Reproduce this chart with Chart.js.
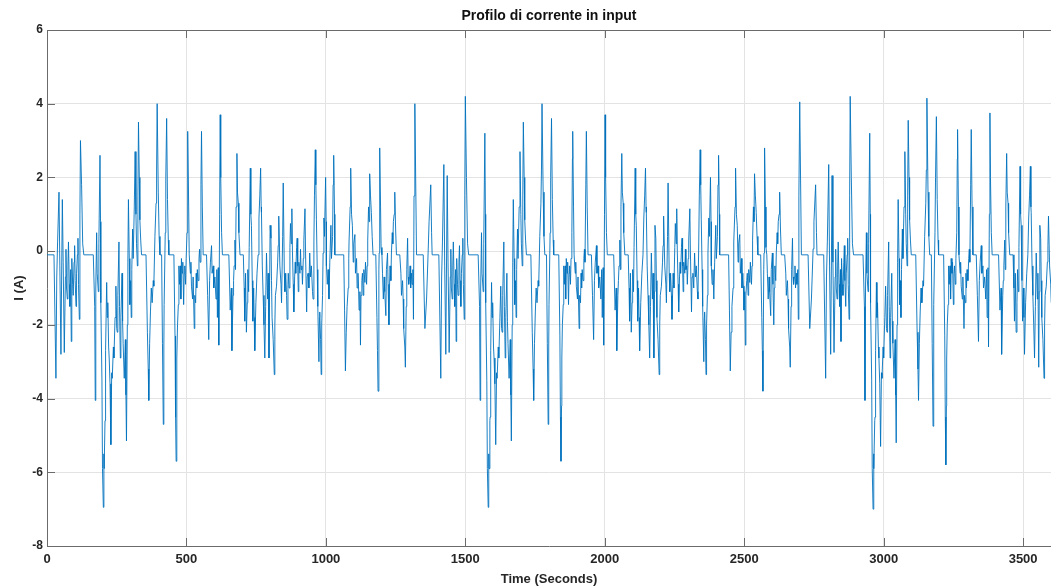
<!DOCTYPE html>
<html>
<head>
<meta charset="utf-8">
<title>Profilo di corrente in input</title>
<script src="https://cdn.jsdelivr.net/npm/chart.js@4.4.1/dist/chart.umd.min.js"></script>
<style>
    html, body { margin: 0; padding: 0; background: #ffffff; }
    canvas { display: block; }
</style>
</head>
<body>
<canvas id="profilo-corrente" width="1051" height="588"></canvas>
<script>
/************** Dati del profilo ****************/

// tacche degli assi
const timeTicks = [0, 500, 1000, 1500, 2000, 2500, 3000, 3500];
const currentTicks = [-8, -6, -4, -2, 0, 2, 4, 6];

// primo giro del profilo (i picchi di ricarica iniziali sono piu' bassi)
const lap1Time = [
    0, 1,
    25, 32, 35, 38, 43, 46, 50, 55, 58, 62,
    66, 68, 70, 73, 75, 77, 80, 82, 85, 87,
    89, 92, 94, 97, 99, 101, 104, 106, 109, 111,
    113, 116, 118, 120, 124, 128, 132, 166, 171, 173,
    175, 178, 180, 184, 186, 190, 192, 193, 197, 199,
    202, 204, 205, 208, 209, 211, 214, 216, 218, 221,
    223, 226, 229, 232, 234, 238, 240, 244, 247, 250,
    252, 254, 258, 260, 263, 265, 269, 271, 273, 277,
    281, 283, 285, 288, 290, 292, 295, 297, 300, 302,
    304, 307, 309, 313, 316, 319, 321, 324, 326, 328,
    331, 333, 336, 339, 355, 360, 363, 365, 368, 371,
    374, 377, 381, 383, 387, 391, 393, 395, 399, 402,
    405, 411, 414, 417, 419, 420, 424, 426, 429, 432,
    435, 437, 455, 459, 461, 463, 465, 466, 468, 471,
    473, 475, 478, 480, 482, 485, 487, 490, 492, 494,
    497, 499, 502, 504, 505, 508, 510, 514, 516, 518,
    522, 524, 528, 530, 533, 535, 537, 539, 542, 545,
    547, 549, 552, 554, 557, 560, 572, 576, 580, 583,
    586, 590, 592, 596, 598, 602, 606, 609, 611, 614,
    616, 619, 621, 623, 626, 629, 652, 657, 661, 663,
    667, 669, 671, 674, 676, 678, 681, 683, 686, 688,
    692, 704, 707, 709, 712, 715, 718, 720, 723, 725,
    729, 731, 733, 736, 738, 741, 743, 745, 749, 753,
    757, 760, 763, 766, 768, 769, 772, 775, 778, 781,
    784, 787, 791, 793, 796, 798, 800, 803, 805, 807,
    811, 815, 817, 819, 823, 827, 829, 831, 835, 839,
    841, 845, 847, 851, 853, 856, 859, 861, 864, 865,
    868, 871, 873, 876, 878, 880, 883, 885, 888, 890,
    892, 895, 897, 899, 901, 903, 907, 909, 911, 914,
    916, 919, 921, 925, 927, 931, 933, 936, 939, 942,
    945, 948, 952, 954, 957, 959, 962, 964, 966, 969,
    971, 975, 977, 978, 981, 983, 985, 988, 990, 993,
    995, 999, 1001, 1002, 1005, 1008, 1011, 1014, 1018, 1020,
    1024, 1026, 1028, 1031, 1032, 1064, 1067, 1070, 1073, 1076,
    1080, 1082, 1083, 1087, 1089, 1092, 1095, 1098, 1100, 1104,
    1106, 1110, 1112, 1115, 1117, 1119, 1122, 1124, 1126, 1129,
    1131, 1134, 1136, 1140, 1142, 1146, 1148, 1150, 1153, 1155,
    1157, 1160, 1163, 1166, 1169, 1179, 1183, 1185, 1187, 1190,
    1191, 1193, 1196, 1198, 1201, 1203, 1206, 1209, 1211, 1215,
    1217, 1221, 1223, 1226, 1228, 1230, 1233, 1235, 1238, 1240,
    1242, 1245, 1247, 1250, 1253, 1265, 1269, 1271, 1275, 1277,
    1279, 1283, 1285, 1288, 1290, 1293, 1295, 1297, 1300, 1302,
    1304, 1307, 1309, 1312, 1314, 1316
];
const lap1Current = [
    -0.1, -0.1,
    -0.1, -3.45, -0.7, 0.25, 1.6, -0.4, -2.8, 1.4, -0.3, -2.75,
    -0.7, 0.05, -1.0, -1.3, -0.4, 0.25, -0.9, -1.5, -0.5, -2.45,
    -0.2, -0.9, -1.2, -0.3, 0.15, -0.8, -1.5, -0.6, -0.1, 0.35,
    -0.9, -1.85, 1.0, 3.0, 1.8, 0.2, -0.1, -0.1, -1.5, -4.05,
    -1.0, 0.5, -0.6, -1.1, 0.2, 2.6, 0.8, -1.4, -3.5, -5.9,
    -6.95, -5.5, -5.9, -4.6, -4.5, -2.7, -0.85, -1.8, -1.4, -2.6,
    -2.9, -3.6, -5.25, -3.3, -3.45, -2.6, -2.9, -1.8, -0.95, -2.1,
    -2.2, -1.2, 0.25, -1.5, -2.9, -1.8, -0.6, -1.9, -2.5, -3.45,
    -2.4, -3.9, -5.15, -2.0, -0.3, 1.4, -0.2, -1.45, -0.8, -1.8,
    -0.5, 0.6, -0.2, 1.2, 2.7, 1.0, 0.2, -0.4, 1.5, 3.5,
    2.0, 0.85, 0.3, -0.1, -0.1, -2.2, -3.2, -4.05, -2.5, -1.65,
    -1.0, -1.4, -0.8, -0.95, 0.4, 1.3, 2.2, 4.0, 1.6, 0.4,
    -0.1, -0.1, -2.5, -4.7, -2.6, -1.45, 0.5, 2.0, 3.6, 1.4,
    0.3, -0.1, -0.1, -2.3, -4.5, -5.7, -4.2, -2.9, -2.0, -1.45,
    -0.4, -0.9, -0.4, -1.3, -0.2, -0.6, -0.3, -1.45, -0.6, -0.4,
    -0.9, -0.2, 0.5, 2.5, 3.25, 1.2, -0.1, -0.6, -0.3, -0.95,
    -1.3, -0.7, -2.1, -1.2, -1.4, -0.6, -1.0, -0.5, -0.8, -0.2,
    0.05, -0.3, 1.8, 3.25, 1.2, -0.1, -0.1, -1.2, -2.4, -0.8,
    -0.3, 0.15, -0.6, -0.4, -1.0, -0.7, -1.3, -0.5, -1.8, -0.45,
    -2.55, 1.0, 3.7, 2.0, 0.5, -0.1, -0.1, -1.6, -1.0, -2.7,
    -1.2, -0.8, -0.4, 0.3, -0.5, 1.2, 2.65, 1.6, 1.3, 0.5,
    -0.1, -0.1, -1.0, -1.9, -0.6, -2.2, -1.4, -0.5, -1.1, 0.1,
    2.25, 1.0, 0.7, -0.8, -1.9, -1.0, -1.8, -2.7, -1.4, -0.6,
    -0.1, 0.9, 1.5, 2.25, 1.2, 1.05, -0.4, -1.2, -2.0, -2.9,
    -1.5, -0.05, -1.3, -0.6, -2.9, -1.1, 0.7, 0.35, -0.8, -1.8,
    -2.4, -3.35, -2.0, -1.2, -0.95, -0.3, 0.15, 0.95, -0.4, -0.9,
    -1.4, 0.4, 1.85, -0.6, -1.1, -0.6, -1.2, -1.85, -0.9, -0.6,
    -1.0, 0.1, 0.75, 0.2, 1.15, 0.0, -0.9, -1.65, -0.7, -0.3,
    -0.6, 0.1, 0.35, -0.4, -1.1, -0.3, -0.6, 0.05, -0.5, -0.4,
    -0.9, -0.2, 0.3, 1.15, 0.0, -1.65, -0.7, -0.6, -1.0, -0.05,
    -0.7, -0.4, -1.1, -1.3, 0.25, 1.5, 2.75, 1.8, 0.85, -0.5,
    -1.5, -3.0, -1.8, -1.65, -2.4, -3.35, -2.0, -1.2, -0.05, 0.9,
    0.4, 2.0, 0.8, -0.4, -0.9, -0.5, -1.3, -0.3, 0.7, -0.2,
    0.4, 1.8, 2.6, 1.0, -0.1, -0.1, -1.6, -3.25, -2.2, -1.5,
    -1.0, -0.2, 0.25, 1.2, 2.25, 1.0, 0.7, -0.3, 0.2, 0.45,
    -0.6, -0.2, -1.0, -0.6, -0.95, -1.6, -1.1, -2.55, -1.2, -0.8,
    -0.6, -1.2, -0.5, -0.85, -0.3, -0.9, -0.4, 0.3, 1.2, 0.8,
    2.1, 1.5, 1.05, 0.4, -0.1, -0.1, -1.8, -2.7, -3.8, -0.5,
    -0.05, 2.8, 1.2, 0.1, -0.1, -0.6, -1.3, -0.7, -1.1, -1.75,
    -0.5, -0.05, -0.9, -2.0, -1.0, -0.4, -0.8, -0.05, 0.5, 0.2,
    0.8, 1.0, 1.6, 0.6, -0.1, -0.1, -0.6, -1.2, -0.8, -1.3,
    -2.1, -2.6, -3.15, -1.5, -0.5, 0.35, -0.7, -0.9, -0.7, -0.4,
    -1.0, -0.6, -0.9, -0.5, -1.85, 1.5
];

// secondo giro
const lap2Time = [
    1319, 1325, 1349, 1355, 1361, 1367, 1370, 1376, 1379, 1381,
    1405, 1412, 1415, 1418, 1423, 1426, 1430, 1435, 1438, 1442,
    1446, 1448, 1450, 1453, 1455, 1457, 1460, 1462, 1465, 1467,
    1469, 1472, 1474, 1477, 1479, 1481, 1484, 1486, 1489, 1491,
    1493, 1496, 1498, 1500, 1504, 1508, 1512, 1546, 1551, 1553,
    1555, 1558, 1560, 1564, 1566, 1570, 1572, 1573, 1577, 1579,
    1582, 1584, 1585, 1588, 1589, 1591, 1594, 1596, 1598, 1601,
    1603, 1606, 1609, 1612, 1614, 1618, 1620, 1624, 1627, 1630,
    1632, 1634, 1638, 1640, 1643, 1645, 1649, 1651, 1653, 1657,
    1661, 1663, 1665, 1668, 1670, 1672, 1675, 1677, 1680, 1682,
    1684, 1687, 1689, 1693, 1696, 1699, 1701, 1704, 1706, 1708,
    1711, 1713, 1716, 1719, 1735, 1740, 1743, 1745, 1748, 1751,
    1754, 1757, 1761, 1763, 1767, 1771, 1773, 1775, 1779, 1782,
    1785, 1791, 1794, 1797, 1799, 1800, 1804, 1806, 1809, 1812,
    1815, 1817, 1835, 1839, 1841, 1843, 1845, 1846, 1848, 1851,
    1853, 1855, 1858, 1860, 1862, 1865, 1867, 1870, 1872, 1874,
    1877, 1879, 1882, 1884, 1885, 1888, 1890, 1894, 1896, 1898,
    1902, 1904, 1908, 1910, 1913, 1915, 1917, 1919, 1922, 1925,
    1927, 1929, 1932, 1934, 1937, 1940, 1952, 1956, 1960, 1963,
    1966, 1970, 1972, 1976, 1978, 1982, 1986, 1989, 1991, 1994,
    1996, 1999, 2001, 2003, 2006, 2009, 2032, 2037, 2041, 2043,
    2047, 2049, 2051, 2054, 2056, 2058, 2061, 2063, 2066, 2068,
    2072, 2084, 2087, 2089, 2092, 2095, 2098, 2100, 2103, 2105,
    2109, 2111, 2113, 2116, 2118, 2121, 2123, 2125, 2129, 2133,
    2137, 2140, 2143, 2146, 2148, 2149, 2152, 2155, 2158, 2161,
    2164, 2167, 2171, 2173, 2176, 2178, 2180, 2183, 2185, 2187,
    2191, 2195, 2197, 2199, 2203, 2207, 2209, 2211, 2215, 2219,
    2221, 2225, 2227, 2231, 2233, 2236, 2239, 2241, 2244, 2245,
    2248, 2251, 2253, 2256, 2258, 2260, 2263, 2265, 2268, 2270,
    2272, 2275, 2277, 2279, 2281, 2283, 2287, 2289, 2291, 2294,
    2296, 2299, 2301, 2305, 2307, 2311, 2313, 2316, 2319, 2322,
    2325, 2328, 2332, 2334, 2337, 2339, 2342, 2344, 2346, 2349,
    2351, 2355, 2357, 2358, 2361, 2363, 2365, 2368, 2370, 2373,
    2375, 2379, 2381, 2382, 2385, 2388, 2391, 2394, 2398, 2400,
    2404, 2406, 2408, 2411, 2412, 2444, 2447, 2450, 2453, 2456,
    2460, 2462, 2463, 2467, 2469, 2472, 2475, 2478, 2480, 2484,
    2486, 2490, 2492, 2495, 2497, 2499, 2502, 2504, 2506, 2509,
    2511, 2514, 2516, 2520, 2522, 2526, 2528, 2530, 2533, 2535,
    2537, 2540, 2543, 2546, 2549, 2559, 2563, 2565, 2567, 2570,
    2571, 2573, 2576, 2578, 2581, 2583, 2586, 2589, 2591, 2595,
    2597, 2601, 2603, 2606, 2608, 2610, 2613, 2615, 2618, 2620,
    2622, 2625, 2627, 2630, 2633, 2645, 2649, 2651, 2655, 2657,
    2659, 2663, 2665, 2668, 2670, 2673, 2675, 2677, 2680, 2682,
    2684, 2687, 2689, 2692, 2694, 2696
];
const lap2Current = [
    4.0, -0.1, -0.1, -2.1, -1.3, 0.06, 0.8, 1.8, 0.5, -0.1,
    -0.1, -3.45, -0.7, 0.25, 2.35, -0.4, -2.8, 2.05, -0.3, -2.75,
    -0.7, 0.05, -1.0, -1.3, -0.4, 0.25, -0.9, -1.5, -0.5, -2.45,
    -0.2, -0.9, -1.2, -0.3, 0.15, -0.8, -1.5, -0.6, -0.1, 0.35,
    -0.9, -1.85, 1.5, 4.2, 2.0, 0.2, -0.1, -0.1, -1.5, -4.05,
    -1.0, 0.5, -0.6, -1.1, 0.2, 3.2, 1.0, -1.4, -3.5, -5.9,
    -6.95, -5.5, -5.9, -4.6, -4.5, -2.7, -0.85, -1.8, -1.4, -2.6,
    -2.9, -3.6, -5.25, -3.3, -3.45, -2.6, -2.9, -1.8, -0.95, -2.1,
    -2.2, -1.2, 0.25, -1.5, -2.9, -1.8, -0.6, -1.9, -2.5, -3.45,
    -2.4, -3.9, -5.15, -2.0, -0.3, 1.4, -0.2, -1.45, -0.8, -1.8,
    -0.5, 0.6, -0.2, 1.2, 2.7, 1.0, 0.2, -0.4, 1.5, 3.5,
    2.0, 0.85, 0.3, -0.1, -0.1, -2.2, -3.2, -4.05, -2.5, -1.65,
    -1.0, -1.4, -0.8, -0.95, 0.4, 1.3, 2.2, 4.0, 1.6, 0.4,
    -0.1, -0.1, -2.5, -4.7, -2.6, -1.45, 0.5, 2.0, 3.6, 1.4,
    0.3, -0.1, -0.1, -2.3, -4.5, -5.7, -4.2, -2.9, -2.0, -1.45,
    -0.4, -0.9, -0.4, -1.3, -0.2, -0.6, -0.3, -1.45, -0.6, -0.4,
    -0.9, -0.2, 0.5, 2.5, 3.25, 1.2, -0.1, -0.6, -0.3, -0.95,
    -1.3, -0.7, -2.1, -1.2, -1.4, -0.6, -1.0, -0.5, -0.8, -0.2,
    0.05, -0.3, 1.8, 3.25, 1.2, -0.1, -0.1, -1.2, -2.4, -0.8,
    -0.3, 0.15, -0.6, -0.4, -1.0, -0.7, -1.3, -0.5, -1.8, -0.45,
    -2.55, 1.0, 3.7, 2.0, 0.5, -0.1, -0.1, -1.6, -1.0, -2.7,
    -1.2, -0.8, -0.4, 0.3, -0.5, 1.2, 2.65, 1.6, 1.3, 0.5,
    -0.1, -0.1, -1.0, -1.9, -0.6, -2.2, -1.4, -0.5, -1.1, 0.1,
    2.25, 1.0, 0.7, -0.8, -1.9, -1.0, -1.8, -2.7, -1.4, -0.6,
    -0.1, 0.9, 1.5, 2.25, 1.2, 1.05, -0.4, -1.2, -2.0, -2.9,
    -1.5, -0.05, -1.3, -0.6, -2.9, -1.1, 0.7, 0.35, -0.8, -1.8,
    -2.4, -3.35, -2.0, -1.2, -0.95, -0.3, 0.15, 0.95, -0.4, -0.9,
    -1.4, 0.4, 1.85, -0.6, -1.1, -0.6, -1.2, -1.85, -0.9, -0.6,
    -1.0, 0.1, 0.75, 0.2, 1.15, 0.0, -0.9, -1.65, -0.7, -0.3,
    -0.6, 0.1, 0.35, -0.4, -1.1, -0.3, -0.6, 0.05, -0.5, -0.4,
    -0.9, -0.2, 0.3, 1.15, 0.0, -1.65, -0.7, -0.6, -1.0, -0.05,
    -0.7, -0.4, -1.1, -1.3, 0.25, 1.5, 2.75, 1.8, 0.85, -0.5,
    -1.5, -3.0, -1.8, -1.65, -2.4, -3.35, -2.0, -1.2, -0.05, 0.9,
    0.4, 2.0, 0.8, -0.4, -0.9, -0.5, -1.3, -0.3, 0.7, -0.2,
    0.4, 1.8, 2.6, 1.0, -0.1, -0.1, -1.6, -3.25, -2.2, -1.5,
    -1.0, -0.2, 0.25, 1.2, 2.25, 1.0, 0.7, -0.3, 0.2, 0.45,
    -0.6, -0.2, -1.0, -0.6, -0.95, -1.6, -1.1, -2.55, -1.2, -0.8,
    -0.6, -1.2, -0.5, -0.85, -0.3, -0.9, -0.4, 0.3, 1.2, 0.8,
    2.1, 1.5, 1.05, 0.4, -0.1, -0.1, -1.8, -2.7, -3.8, -0.5,
    -0.05, 2.8, 1.2, 0.1, -0.1, -0.6, -1.3, -0.7, -1.1, -1.75,
    -0.5, -0.05, -0.9, -2.0, -1.0, -0.4, -0.8, -0.05, 0.5, 0.2,
    0.8, 1.0, 1.6, 0.6, -0.1, -0.1, -0.6, -1.2, -0.8, -1.3,
    -2.1, -2.6, -3.15, -1.5, -0.5, 0.35, -0.7, -0.9, -0.7, -0.4,
    -1.0, -0.6, -0.9, -0.5, -1.85, 1.5
];

// terzo giro, tagliato a fine registrazione
const lap3Time = [
    2699, 2705, 2729, 2735, 2741, 2747, 2750, 2756, 2759, 2761,
    2785, 2792, 2795, 2798, 2803, 2806, 2810, 2815, 2818, 2822,
    2826, 2828, 2830, 2833, 2835, 2837, 2840, 2842, 2845, 2847,
    2849, 2852, 2854, 2857, 2859, 2861, 2864, 2866, 2869, 2871,
    2873, 2876, 2878, 2880, 2884, 2888, 2892, 2926, 2931, 2933,
    2935, 2938, 2940, 2944, 2946, 2950, 2952, 2953, 2957, 2959,
    2962, 2964, 2965, 2968, 2969, 2971, 2974, 2976, 2978, 2981,
    2983, 2986, 2989, 2992, 2994, 2998, 3000, 3004, 3007, 3010,
    3012, 3014, 3018, 3020, 3023, 3025, 3029, 3031, 3033, 3037,
    3041, 3043, 3045, 3048, 3050, 3052, 3055, 3057, 3060, 3062,
    3064, 3067, 3069, 3073, 3076, 3079, 3081, 3084, 3086, 3088,
    3091, 3093, 3096, 3099, 3115, 3120, 3123, 3125, 3128, 3131,
    3134, 3137, 3141, 3143, 3147, 3151, 3153, 3155, 3159, 3162,
    3165, 3171, 3174, 3177, 3179, 3180, 3184, 3186, 3189, 3192,
    3195, 3197, 3215, 3219, 3221, 3223, 3225, 3226, 3228, 3231,
    3233, 3235, 3238, 3240, 3242, 3245, 3247, 3250, 3252, 3254,
    3257, 3259, 3262, 3264, 3265, 3268, 3270, 3274, 3276, 3278,
    3282, 3284, 3288, 3290, 3293, 3295, 3297, 3299, 3302, 3305,
    3307, 3309, 3312, 3314, 3317, 3320, 3332, 3336, 3340, 3343,
    3346, 3350, 3352, 3356, 3358, 3362, 3366, 3369, 3371, 3374,
    3376, 3379, 3381, 3383, 3386, 3389, 3412, 3417, 3421, 3423,
    3427, 3429, 3431, 3434, 3436, 3438, 3441, 3443, 3446, 3448,
    3452, 3464, 3467, 3469, 3472, 3475, 3478, 3480, 3483, 3485,
    3489, 3491, 3493, 3496, 3498, 3501, 3503, 3505, 3509, 3513,
    3517, 3520, 3523, 3526, 3528, 3529, 3532, 3535, 3538, 3541,
    3544, 3547, 3551, 3553, 3556, 3558, 3560, 3563, 3565, 3567,
    3571, 3575, 3577, 3579, 3583, 3587, 3589, 3591, 3595, 3599,
    3601, 3605
];
const lap3Current = [
    4.05, -0.1, -0.1, -2.1, -1.3, 0.06, 0.8, 1.8, 0.5, -0.1,
    -0.1, -3.45, -0.7, 0.25, 2.35, -0.4, -2.8, 2.05, -0.3, -2.75,
    -0.7, 0.05, -1.0, -1.3, -0.4, 0.25, -0.9, -1.5, -0.5, -2.45,
    -0.2, -0.9, -1.2, -0.3, 0.15, -0.8, -1.5, -0.6, -0.1, 0.35,
    -0.9, -1.85, 1.5, 4.2, 2.0, 0.2, -0.1, -0.1, -1.5, -4.05,
    -1.0, 0.5, -0.6, -1.1, 0.2, 3.2, 1.0, -1.4, -3.5, -5.9,
    -7.0, -5.5, -5.9, -4.6, -4.5, -2.7, -0.85, -1.8, -1.4, -2.6,
    -2.9, -3.6, -5.3, -3.3, -3.45, -2.6, -2.9, -1.8, -0.95, -2.1,
    -2.2, -1.2, 0.25, -1.5, -2.9, -1.8, -0.6, -1.9, -2.5, -3.45,
    -2.4, -3.9, -5.2, -2.0, -0.3, 1.4, -0.2, -1.45, -0.8, -1.8,
    -0.5, 0.6, -0.2, 1.2, 2.7, 1.0, 0.2, -0.4, 1.5, 3.55,
    2.0, 0.85, 0.3, -0.1, -0.1, -2.2, -3.2, -4.05, -2.5, -1.65,
    -1.0, -1.4, -0.8, -0.95, 0.4, 1.3, 2.2, 4.15, 1.6, 0.4,
    -0.1, -0.1, -2.5, -4.75, -2.6, -1.45, 0.5, 2.0, 3.65, 1.4,
    0.3, -0.1, -0.1, -2.3, -4.5, -5.8, -4.2, -2.9, -2.0, -1.45,
    -0.4, -0.9, -0.4, -1.3, -0.2, -0.6, -0.3, -1.45, -0.6, -0.4,
    -0.9, -0.2, 0.5, 2.5, 3.3, 1.2, -0.1, -0.6, -0.3, -0.95,
    -1.3, -0.7, -2.1, -1.2, -1.4, -0.6, -1.0, -0.5, -0.8, -0.2,
    0.05, -0.3, 1.8, 3.3, 1.2, -0.1, -0.1, -1.2, -2.45, -0.8,
    -0.3, 0.15, -0.6, -0.4, -1.0, -0.7, -1.3, -0.5, -1.8, -0.45,
    -2.6, 1.0, 3.75, 2.0, 0.5, -0.1, -0.1, -1.6, -1.0, -2.8,
    -1.2, -0.8, -0.4, 0.3, -0.5, 1.2, 2.65, 1.6, 1.3, 0.5,
    -0.1, -0.1, -1.0, -1.9, -0.6, -2.2, -1.4, -0.5, -1.1, 0.1,
    2.3, 1.0, 0.7, -0.8, -1.9, -1.0, -1.8, -2.8, -1.4, -0.6,
    -0.1, 0.9, 1.5, 2.3, 1.2, 1.05, -0.4, -1.2, -2.0, -2.9,
    -1.5, -0.05, -1.3, -0.6, -3.15, -1.1, 0.7, 0.35, -0.8, -1.8,
    -2.4, -3.45, -2.0, -1.2, -0.95, -0.3, 0.15, 0.95, -0.4, -0.9,
    -1.4, 0.4
];

/************** Grafico ****************/

const plotFont = "'Liberation Sans', Arial, Helvetica, sans-serif";
const axisColor = '#6b6b6b';
const textColor = '#262626';

let points = [];
[[lap1Time, lap1Current], [lap2Time, lap2Current], [lap3Time, lap3Current]].forEach(([times, currents]) => {
    for (let i = 0; i < times.length; i++)
        points.push({ x: times[i], y: currents[i] });
});

// titolo e bordo degli assi stile matlab (tacche verso l'interno)
const matlabFrame = {
    id: 'matlabFrame',
    afterDraw(chart) {
        const { ctx, chartArea: area, scales } = chart;
        const tick = 8;
        ctx.save();
        ctx.strokeStyle = axisColor;
        ctx.lineWidth = 1;
        ctx.beginPath();
        ctx.moveTo(area.left, area.top + 0.5);
        ctx.lineTo(area.right, area.top + 0.5);
        scales.x.ticks.forEach((t) => {
            const px = Math.round(scales.x.getPixelForValue(t.value)) + 0.5;
            ctx.moveTo(px, area.bottom);
            ctx.lineTo(px, area.bottom - tick);
            ctx.moveTo(px, area.top);
            ctx.lineTo(px, area.top + tick);
        });
        scales.y.ticks.forEach((t) => {
            const py = Math.round(scales.y.getPixelForValue(t.value)) + 0.5;
            ctx.moveTo(area.left, py);
            ctx.lineTo(area.left + tick, py);
        });
        ctx.stroke();

        ctx.fillStyle = '#111111';
        ctx.font = 'bold 14px ' + plotFont;
        ctx.textAlign = 'center';
        ctx.textBaseline = 'middle';
        ctx.fillText('Profilo di corrente in input', (area.left + area.right) / 2, 16);
        ctx.restore();
    }
};

const config = {
    type: 'line',
    data: {
        datasets: [{
            label: 'I (A)',
            data: points,
            borderColor: '#0072BD',
            borderWidth: 0.9,
            pointRadius: 0,
            tension: 0,
            fill: false
        }]
    },
    options: {
        responsive: false,
        animation: false,
        parsing: false,
        layout: { padding: { top: 30, right: 0, bottom: 0, left: 0 } },
        plugins: {
            legend: { display: false },
            tooltip: { enabled: false },
            title: { display: false }
        },
        scales: {
            x: {
                type: 'linear',
                min: 0,
                max: 3600,
                afterBuildTicks: (scale) => { scale.ticks = timeTicks.map((v) => ({ value: v })); },
                afterFit: (scale) => { scale.height = 42; },
                ticks: {
                    maxRotation: 0,
                    autoSkip: false,
                    padding: 6,
                    color: textColor,
                    font: { family: plotFont, size: 13, weight: 'bold' },
                    callback: (value) => String(value)
                },
                grid: { color: '#e3e3e3', drawTicks: false },
                border: { display: true, color: axisColor, width: 1 },
                title: {
                    display: true,
                    text: 'Time (Seconds)',
                    color: textColor,
                    padding: { top: 0, bottom: 1 },
                    font: { family: plotFont, size: 13, weight: 'bold' }
                }
            },
            y: {
                min: -8,
                max: 6,
                afterBuildTicks: (scale) => { scale.ticks = currentTicks.map((v) => ({ value: v })); },
                afterFit: (scale) => { scale.width = 47; },
                ticks: {
                    autoSkip: false,
                    padding: 4,
                    color: textColor,
                    font: { family: plotFont, size: 12, weight: 'bold' },
                    callback: (value) => String(value)
                },
                grid: { color: '#e3e3e3', drawTicks: false },
                border: { display: true, color: axisColor, width: 1 },
                title: {
                    display: true,
                    text: 'I (A)',
                    color: textColor,
                    padding: { top: 12, bottom: 0 },
                    font: { family: plotFont, size: 13, weight: 'bold' }
                }
            }
        }
    },
    plugins: [matlabFrame]
};

const myChart = new Chart(
    document.getElementById('profilo-corrente'),
    config
);
</script>
</body>
</html>
